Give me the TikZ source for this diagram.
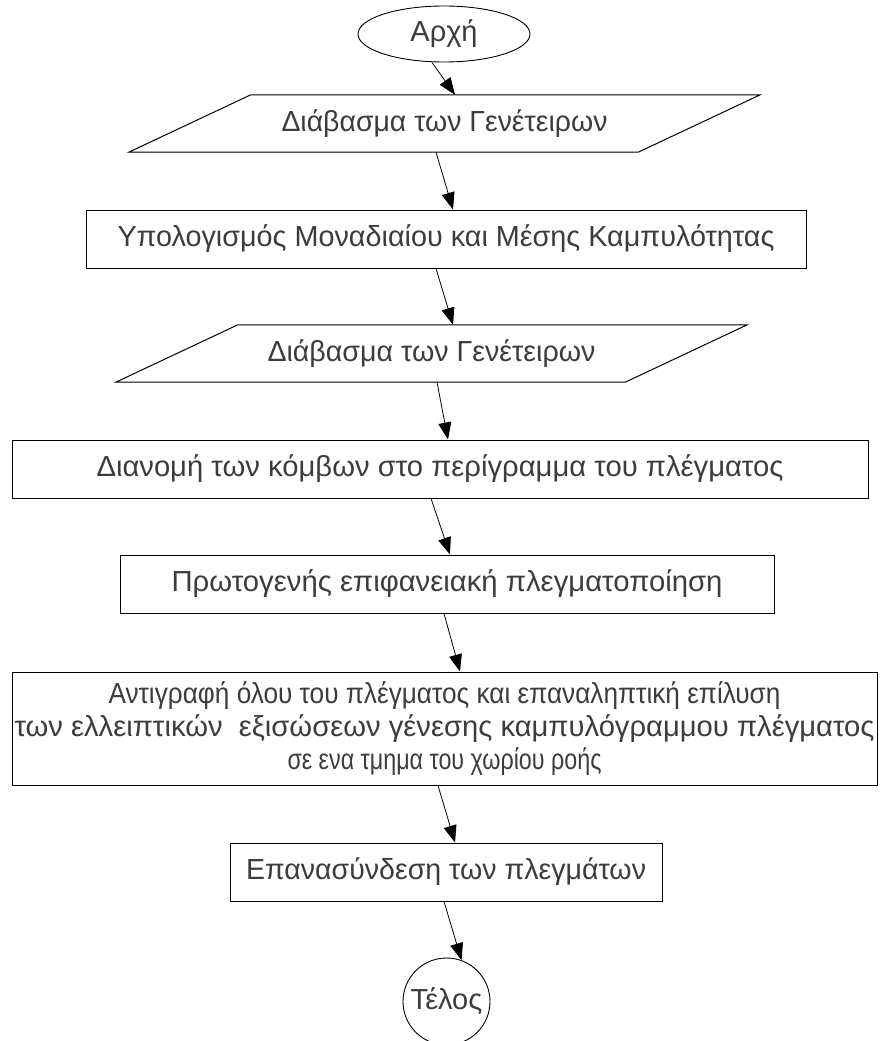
\documentclass[tikz,border=0pt]{standalone}
\usepackage{fontspec}
\setmainfont{Liberation Sans}
\usetikzlibrary{shapes.geometric}
\usetikzlibrary{arrows.meta}
\definecolor{txtgray}{RGB}{60,60,60}
\newsavebox{\fitbox}
\newcommand{\fitw}[2]{\sbox{\fitbox}{#2}\pgfmathsetmacro{\fitfac}{#1/\wd\fitbox}\scalebox{\fitfac}[1]{\usebox{\fitbox}}}
\tikzset{
  procbox/.style= {draw, rectangle, line width=1pt, minimum height=58pt, inner sep=0pt},
  iobox/.style= {rectangle, minimum width=509pt, minimum height=57pt, inner sep=0pt},
  ioline/.style= {line width=1pt},
  startend/.style= {draw, line width=0.9pt, inner sep=0pt},
  flowarrow/.style= {-{Triangle[length=17pt,width=13pt]}, line width=0.8pt},
}

\begin{document}
\begin{tikzpicture}[x=1pt, y=-1pt, every node/.style={font=\fontsize{29}{33}\selectfont, text=txtgray}]
  \useasboundingbox (0,0) rectangle (879,1041);

  \node [startend, ellipse, minimum width=172pt, minimum height=56pt] (start) at (444,34) {Αρχή} ;
  \node [iobox] (read1) at (444.5,123.5) {\fitw{326pt}{Διάβασμα των Γενέτειρων}} ;
  \node [procbox, minimum width=720pt] (curv) at (446,239) {\fitw{657pt}{Υπολογισμός Μοναδιαίου και Μέσης Καμπυλότητας}} ;
  \node [iobox] (read2) at (431.5,353.5) {\fitw{328pt}{Διάβασμα των Γενέτειρων}} ;
  \node [procbox, minimum width=856pt] (distr) at (440,469) {\fitw{687pt}{Διανομή των κόμβων στο περίγραμμα του πλέγματος}} ;
  \node [procbox, minimum width=654pt] (surf) at (447,584) {\fitw{551pt}{Πρωτογενής επιφανειακή πλεγματοποίηση}} ;
  \node [procbox, minimum width=865pt, minimum height=113pt, align=center] (solve) at (444.5,728.5)
    {\fitw{672pt}{Αντιγραφή όλου του πλέγματος και επαναληπτική επίλυση}\\
     \fitw{860pt}{των ελλειπτικών\ \ εξισώσεων γένεσης καμπυλόγραμμου πλέγματος}\\
     \fitw{314pt}{σε ενα τμημα του χωρίου ροής}} ;
  \node [procbox, minimum width=432pt] (join) at (446,872) {\fitw{400pt}{Επανασύνδεση των πλεγμάτων}} ;
  \node [startend, circle, minimum size=87pt] (stop) at (446.5,1001.5) {Τέλος} ;

  % input/output parallelograms
  \foreach \p in {read1, read2}
    \draw [ioline] ([xshift=61pt]\p.north west) -- ([xshift=61pt]\p.north east)
      -- ([xshift=-61pt]\p.south east) -- ([xshift=-61pt]\p.south west) -- cycle ;

  \draw [flowarrow] ([xshift=-12pt]start.south) -- ([xshift=10.5pt]read1.north) ;
  \draw [flowarrow] ([xshift=-8.5pt]read1.south) -- ([xshift=7pt]curv.north) ;
  \draw [flowarrow] ([xshift=-10pt]curv.south) -- ([xshift=21.5pt]read2.north) ;
  \draw [flowarrow] ([xshift=5.5pt]read2.south) -- ([xshift=8pt]distr.north) ;
  \draw [flowarrow] ([xshift=-9pt]distr.south) -- ([xshift=3pt]surf.north) ;
  \draw [flowarrow] ([xshift=-3pt]surf.south) -- ([xshift=15.5pt]solve.north) ;
  \draw [flowarrow] ([xshift=-6.5pt]solve.south) -- ([xshift=9pt]join.north) ;
  \draw [flowarrow] ([xshift=-2pt]join.south) -- (stop.70) ;
\end{tikzpicture}
\end{document}
